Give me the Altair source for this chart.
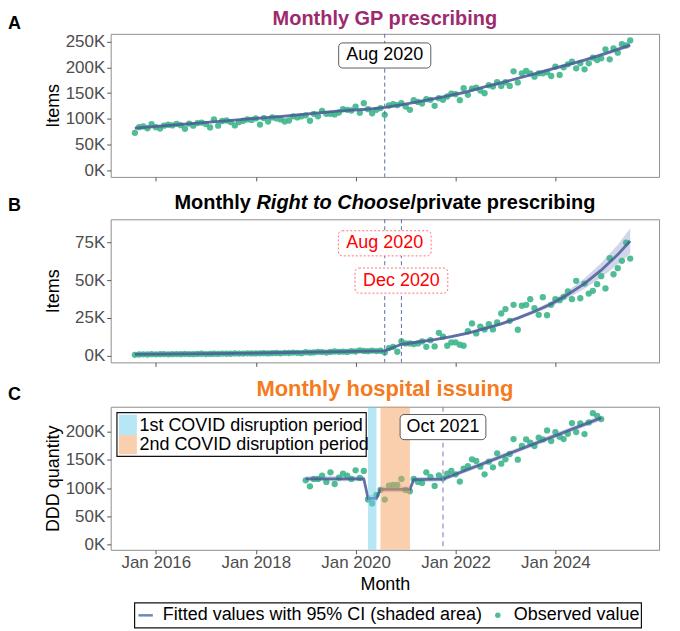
import altair as alt
import pandas as pd

# ---------------- data (values in thousands) ----------------
gp_start = "2015-08-01"
gp_items_k = [73, 84, 85.5, 82, 90, 84, 81.5, 87, 88.7, 87.4,
              90.6, 88, 81, 91, 87, 92, 93, 90, 83.6, 99,
              87, 96, 97, 94, 87.4, 94, 96.5, 99, 98, 101,
              89, 101.6, 95, 103, 101, 99, 95, 97, 105, 103,
              105, 107, 96.5, 110, 105, 115.8, 110, 110, 108.7, 112.5,
              119, 117.7, 116.4, 124, 112, 130.6, 119, 111, 117.7, 121,
              108,
              126.1, 128.6, 126.7, 130.6, 124.1, 117.7, 136.4, 133.0, 129.9, 138.3,
              137.0, 125.4, 140.2, 137.0, 143.5, 149.2, 147.9, 136.4, 159.5, 146.7,
              158.9, 160.8, 155.0, 149.9, 165.3, 162.7, 171.1, 164.0, 171.1, 164.0,
              192.3, 170.5, 188.5, 192.9, 188.5, 182.0, 188.5, 188.5, 190.4, 183.3,
              201.3, 185.3, 200.0, 205.9, 211.0, 198.1, 207.8, 196.2, 207.8, 218.7,
              214.2, 217.5, 234.9, 215.5, 236.8, 228.4, 245.2, 242.6, 252.2]

rtc_start = "2015-08-01"
rtc_items_k = [0.6, 0.8, 0.9, 0.8, 1.0, 0.9, 1.0, 1.1, 0.9, 1.0,
               1.1, 1.0, 1.2, 1.1, 1.0, 1.2, 1.3, 1.1, 1.2, 1.3,
               1.2, 1.4, 1.3, 1.3, 1.5, 1.4, 1.4, 1.6, 1.5, 1.5,
               1.6, 1.7, 1.5, 1.7, 1.8, 1.6, 1.9, 1.8, 2.1, 1.9,
               1.7, 2.3, 2.0, 2.2, 2.6, 2.4, 2.1, 2.5, 2.8, 2.6,
               2.7, 2.5, 3.0, 2.8, 3.6, 3.2, 3.0, 3.4, 3.1, 3.3,
               2.2,
               5.05, 5.93, 2.63, 9.46, 8.14, 8.14, 7.70, 8.14, 9.46, 5.93,
               10.3, 6.15, 15.2, 12.6, 6.6, 8.8, 8.8, 7.26, 6.6, 16.3,
               21.4, 14.8, 19.2, 17.4, 20.9, 17.4, 22.0, 28.0, 30.9, 23.1,
               33.7, 17.2, 33.1, 33.7, 37.5, 31.5, 27.1, 38.8, 26.9, 33.7,
               37.5, 36.8, 39.0, 42.6, 37.5, 49.6, 38.1, 47.8, 41.2, 43.0,
               47.4, 52.7, 44.6, 64.6, 54.0, 58.0, 62.9, 75.0, 64.4]

hosp_start = "2019-01-01"
hosp_ddd_k = [113.9, 103.3, 116.3, 116.3, 122.1, 111.0, 128.0, 107.4, 118.6, 125.6,
              122.1, 116.3, 131.5, 118.0, 130.5,
              80.0, 73.0, 88.0,
              97.0, 79.9, 104.4, 105.7, 105.7, 116.3, 96.9, 94.6,
              116.3, 111.0, 109.2, 128.0, 119.8, 103.9, 122.7,
              117.4, 125.6, 130.3, 124.5, 111.6, 134.6, 138.7, 150.9, 147.9, 137.9,
              124.5, 146.7, 136.8, 161.4, 143.3, 150.9, 160.3, 186.7, 150.3, 174.4,
              186.1, 180.2, 174.4, 189.0, 186.1, 201.9, 183.2, 199.0, 190.7, 186.7,
              196.0, 214.8, 199.0, 214.2, 195.5, 216.0, 232.4, 227.7, 221.9]

gp_fit_dates = ["2015-08-01", "2016-08-01", "2017-08-01", "2018-08-01", "2019-08-01",
                "2020-08-01", "2021-02-01", "2021-08-01", "2022-02-01", "2022-08-01",
                "2023-02-01", "2023-08-01", "2024-02-01", "2024-08-01", "2025-02-01",
                "2025-07-01"]
gp_fit_k = [82, 90, 97.8, 105.5, 114.5, 122.5, 130.5, 139.5, 149.5, 162,
            174.5, 187.5, 201, 214, 229.5, 243]
gp_fit_ci_k = [3, 2.5, 2.5, 2.5, 2.5, 2.5, 2.5, 2.5, 2.5, 2.5, 2.5, 2.5, 3, 3, 3.5, 4.5]

rtc_fit_dates = ["2015-08-01", "2018-02-01", "2020-08-01", "2020-12-01", "2021-04-01",
                 "2021-08-01", "2021-12-01", "2022-04-01", "2022-08-01", "2022-12-01",
                 "2023-04-01", "2023-08-01", "2023-12-01", "2024-04-01", "2024-08-01",
                 "2024-12-01", "2025-04-01", "2025-07-01"]
rtc_fit_k = [0.9, 1.8, 3.2, 7.6, 9.1, 10.7, 12.7, 15.0, 17.9, 21.1,
             24.9, 29.3, 34.3, 40.6, 47.8, 56.7, 67.0, 76.0]
rtc_fit_ci_k = [0.4, 0.4, 0.5, 0.8, 0.8, 0.8, 0.9, 0.9, 1.0, 1.0,
                1.1, 1.3, 1.8, 2.5, 3.5, 4.8, 6.5, 8.5]

hosp_fit_dates = ["2019-01-01", "2020-03-01", "2020-04-01", "2020-05-01", "2020-06-01",
                  "2020-07-01", "2021-01-01", "2021-02-01", "2021-03-01", "2021-10-01",
                  "2024-12-01"]
hosp_fit_k = [116.5, 116.5, 82, 82, 82, 98, 98, 98, 115, 116, 224]
hosp_fit_ci_k = [4.5, 4.5, 6, 6, 6, 5, 5, 5, 4.5, 4, 4.5]

covid_labels = ["1st COVID disruption period", "2nd COVID disruption period"]
covid_starts = ["2020-04-01", "2020-07-01"]
covid_ends = ["2020-06-01", "2021-02-01"]
covid_colors = ["#6FCDEB", "#F5A05C"]

gp_events = ["2020-08-01"]
gp_event_labels = ["Aug 2020"]
rtc_events = ["2020-08-01", "2020-12-01"]
rtc_event_labels = ["Aug 2020", "Dec 2020"]
hosp_events = ["2021-10-01"]
hosp_event_labels = ["Oct 2021"]

x_tick_years = [2016, 2018, 2020, 2022, 2024]
gp_y_ticks = [0, 50, 100, 150, 200, 250]
rtc_y_ticks = [0, 25, 50, 75]
hosp_y_ticks = [0, 50, 100, 150, 200]

# ---------------- styling ----------------
FONT = "Liberation Sans"
W, H = 550, 143.5
PT_COLOR = "#3DB68C"
LINE_COLOR = "#4B5C99"
CI_COLOR = "#9AA5CF"
PT_SIZE = 40


def obs_df(start, vals):
    return pd.DataFrame({
        "date": pd.date_range(start, periods=len(vals), freq="MS").strftime("%Y-%m-%d"),
        "value": vals})


def fit_df(dates, vals, ci):
    return pd.DataFrame({"date": dates, "value": vals,
                         "lo": [v - c for v, c in zip(vals, ci)],
                         "hi": [v + c for v, c in zip(vals, ci)]})


def x_enc(field, labels, title=None):
    ax = dict(values=[alt.DateTime(year=y, month=1, date=1) for y in x_tick_years],
              format="%b %Y", labels=labels, tickSize=4, labelPadding=1)
    if title:
        ax.update(title=title, titleY=39.7, titleBaseline="alphabetic")
    else:
        ax.update(title=None)
    return alt.X(f"{field}:T",
                 scale=alt.Scale(domain=[alt.DateTime(year=2015, month=2, date=5),
                                         alt.DateTime(year=2026, month=1, date=28)]),
                 axis=alt.Axis(**ax))


def y_enc(field, dom, ticks, title):
    return alt.Y(f"{field}:Q", scale=alt.Scale(domain=dom, nice=False, zero=False),
                 axis=alt.Axis(values=ticks, labelExpr="datum.value + 'K'", title=title,
                               titleX=-52.7, titleBaseline="alphabetic", tickSize=4))


one = pd.DataFrame({"a": [0]})


def bounds(top, bottom):
    return alt.Chart(one).mark_rect(fillOpacity=0, strokeOpacity=0).encode(
        x=alt.value(-109.7), x2=alt.value(570.3), y=alt.value(-top), y2=alt.value(bottom))


def txt(x, y, text, size=18, weight="normal", color="black", align="left", style="normal"):
    return alt.Chart(one).mark_text(text=text, font=FONT, fontSize=size, fontWeight=weight,
                                    color=color, align=align, baseline="middle",
                                    fontStyle=style).encode(x=alt.value(x), y=alt.value(y))


def panel(obs, fit, dom, ticks, ytitle, events, ev_labels, label_y, label_half,
          label_style, vline_style, xlabels, xtitle, interp, extra_front=None,
          extra_mid=None):
    xe = lambda f="date": x_enc(f, xlabels, xtitle)
    ye = lambda f="value": y_enc(f, dom, ticks, ytitle)
    fdf = fit_df(*fit)
    layers = []
    layers.append(alt.Chart(fdf).mark_area(color=CI_COLOR, opacity=0.45,
                                           interpolate=interp).encode(
        x=xe(), y=ye("lo"), y2="hi"))
    layers.append(alt.Chart(obs).mark_circle(size=PT_SIZE, color=PT_COLOR, opacity=0.9).encode(
        x=xe(), y=ye()))
    layers.append(alt.Chart(fdf).mark_line(color=LINE_COLOR, strokeWidth=2.8, opacity=0.85,
                                           interpolate=interp).encode(x=xe(), y=ye()))
    if extra_mid:
        layers += extra_mid(xe, ye)
    ev = pd.DataFrame({"date": events, "label": ev_labels})
    layers.append(alt.Chart(ev).mark_rule(**vline_style).encode(x=xe()))
    for i in range(len(events)):
        one_ev = ev.iloc[[i]]
        yc = label_y[i]
        layers.append(alt.Chart(one_ev).mark_rect(
            xOffset=-label_half, x2Offset=label_half, cornerRadius=4, fill="white",
            **label_style["box"]).encode(
            x=xe(), x2="date:T", y=alt.value(yc - 12.6), y2=alt.value(yc + 12.6)))
        layers.append(alt.Chart(one_ev).mark_text(
            font=FONT, fontSize=18, baseline="middle", color=label_style["text"]).encode(
            x=xe(), y=alt.value(yc), text="label:N"))
    if extra_front:
        layers += extra_front
    return layers


# ---------------- panel A ----------------
gp_obs = obs_df(gp_start, gp_items_k)
layersA = [bounds(32, 151.5)] + panel(
    gp_obs, (gp_fit_dates, gp_fit_k, gp_fit_ci_k), [-12.4, 265], gp_y_ticks, "Items",
    gp_events, gp_event_labels, [21.7], 46.2,
    {"box": dict(stroke="#333333", strokeWidth=0.8), "text": "black"},
    dict(color="#5B6DA8", strokeWidth=1, strokeDash=[4, 3]), False, None, "monotone",
    extra_front=[
        txt(275, -15.3, "Monthly GP prescribing", size=20, weight="bold", color="#9E2A6E",
            align="center"),
        txt(-103.1, -10.3, "A", size=18, weight="bold"),
    ])
chartA = alt.layer(*layersA).properties(width=W, height=H)

# ---------------- panel B ----------------
rtc_obs = obs_df(rtc_start, rtc_items_k)
layersB = [bounds(33.2, 151.5)] + panel(
    rtc_obs, (rtc_fit_dates, rtc_fit_k, rtc_fit_ci_k), [-4.4, 90.4], rtc_y_ticks, "Items",
    rtc_events, rtc_event_labels, [24.1, 61.5], 46.5,
    {"box": dict(stroke="#FF7070", strokeWidth=1, strokeDash=[2, 2]), "text": "#FF0000"},
    dict(color="#5B6DA8", strokeWidth=1, strokeDash=[4, 3]), False, None, "linear",
    extra_front=[
        txt(64, -16.7, "Monthly", size=20, weight="bold"),
        txt(146.2, -16.7, "Right to Choose", size=20, weight="bold", style="italic"),
        txt(300.6, -16.7, "/private prescribing", size=20, weight="bold"),
        txt(-103.1, -13.7, "B", size=18, weight="bold"),
    ])
chartB = alt.layer(*layersB).properties(width=W, height=H)

# ---------------- panel C ----------------
hosp_obs = obs_df(hosp_start, hosp_ddd_k)
covid_df = pd.DataFrame({"start": covid_starts, "end": covid_ends, "label": covid_labels,
                         "color": covid_colors})


def covid_bands(xe, ye):
    return [alt.Chart(covid_df).mark_rect(opacity=0.5).encode(
        x=xe("start"), x2="end:T",
        color=alt.Color("label:N", scale=alt.Scale(domain=covid_labels, range=covid_colors),
                        legend=None))]


LEG_Y = 209.2
legend_layers = [
    # covid legend
    alt.Chart(one).mark_rect(fill="white", stroke="#111111", strokeWidth=1.2).encode(
        x=alt.value(6.3), x2=alt.value(256.3), y=alt.value(6), y2=alt.value(49.7)),
    alt.Chart(one).mark_rect(fill=covid_colors[0], opacity=0.5).encode(
        x=alt.value(8.3), x2=alt.value(26.3), y=alt.value(8), y2=alt.value(28.5)),
    alt.Chart(one).mark_rect(fill=covid_colors[1], opacity=0.5).encode(
        x=alt.value(8.3), x2=alt.value(26.3), y=alt.value(28.5), y2=alt.value(47.7)),
    txt(28.9, 19.5, covid_labels[0]),
    txt(28.9, 38.2, covid_labels[1]),
    # bottom legend
    alt.Chart(one).mark_rect(fill="white", stroke="#111111", strokeWidth=1.2).encode(
        x=alt.value(24), x2=alt.value(532.3), y=alt.value(196.7), y2=alt.value(221.7)),
    alt.Chart(one).mark_rule(color="#7585B8", strokeWidth=2.5).encode(
        x=alt.value(27.8), x2=alt.value(42.3), y=alt.value(LEG_Y)),
    txt(52.3, LEG_Y, "Fitted values with 95% CI (shaded area)"),
    alt.Chart(one).mark_circle(size=30, color=PT_COLOR, opacity=0.9).encode(
        x=alt.value(388.3), y=alt.value(LEG_Y)),
    txt(404.3, LEG_Y, "Observed value"),
    # titles
    txt(275, -17.3, "Monthly hospital issuing", size=22, weight="bold", color="#F47B20",
        align="center"),
    txt(-103.1, -11.3, "C", size=18, weight="bold"),
]

layersC = [bounds(35.1, 227.7)] + panel(
    hosp_obs, (hosp_fit_dates, hosp_fit_k, hosp_fit_ci_k), [-8.8, 243.7], hosp_y_ticks,
    "DDD quantity", hosp_events, hosp_event_labels, [20.4], 43,
    {"box": dict(stroke="#333333", strokeWidth=0.8), "text": "black"},
    dict(color="#8E9ACB", strokeWidth=1.3, strokeDash=[5, 4]), True, "Month", "linear",
    extra_mid=covid_bands, extra_front=legend_layers)
chartC = alt.layer(*layersC).properties(width=W, height=H)

chart = alt.vconcat(chartA, chartB, chartC, spacing=0).properties(
    padding=0
).configure_view(stroke="#8F8F8F", strokeWidth=1).configure_axis(
    labelFont=FONT, labelFontSize=17, labelColor="#4D4D4D", titleFont=FONT,
    titleFontSize=18, titleColor="black", titleFontWeight="normal", tickColor="#555555",
    domain=False, grid=False, labelPadding=2)

chart.save("out.html", embed_options={"renderer": "svg", "actions": False})
